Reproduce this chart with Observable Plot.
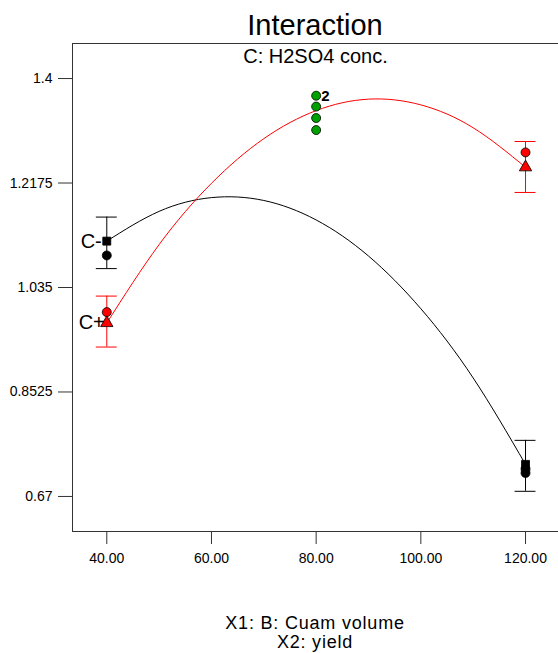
<!DOCTYPE html>
<html>
<head>
<meta charset="utf-8">
<script src="https://cdn.jsdelivr.net/npm/d3@7"></script>
<script src="https://cdn.jsdelivr.net/npm/@observablehq/plot@0.6"></script>
<style>
  html, body { margin: 0; padding: 0; background: #fff; overflow: hidden; }
  #wrap { position: relative; width: 558px; height: 653px; font-family: "Liberation Sans", Arial, sans-serif; color: #000; }
  #chart { position: absolute; left: 0; top: 0; }
  .title { position: absolute; left: 72px; width: 486px; text-align: center; white-space: nowrap; }
  #title { top: 11px; font-size: 29px; line-height: 29px; }
  #xlabel { top: 614px; font-size: 18px; line-height: 19px; letter-spacing: 0.8px; }
</style>
</head>
<body>
<div id="wrap">
  <div id="chart"></div>
  <div id="title" class="title">Interaction</div>
  <div id="xlabel" class="title">X1: B: Cuam volume<br>X2: yield</div>
</div>
<script>
// ---- data ----
const xTicks = [40, 60, 80, 100, 120];
const yTicks = [0.67, 0.8525, 1.035, 1.2175, 1.4];

const levelsX = [40, 120];
// C- (black): predicted, error bar, observed
const cMinusPred = [1.116, 0.726];
const cMinusErrLow = [1.068, 0.679];
const cMinusErrHigh = [1.158, 0.768];
const cMinusObsX = [40, 120, 120];
const cMinusObsY = [1.091, 0.718, 0.711];
// C+ (red)
const cPlusPred = [0.973, 1.245];
const cPlusErrLow = [0.931, 1.201];
const cPlusErrHigh = [1.020, 1.290];
const cPlusObsX = [40, 120];
const cPlusObsY = [0.992, 1.271];
// centre points (green)
const centerX = 80;
const centerObsY = [1.370, 1.351, 1.331, 1.310];
const centerLabel = "2";
// fitted curves
const curveX = [40, 50, 60, 70, 80, 90, 100, 110, 120];
const cMinusCurve = [1.116, 1.168, 1.192, 1.187, 1.153, 1.090, 0.998, 0.877, 0.726];
const cPlusCurve = [0.973, 1.110, 1.217, 1.295, 1.344, 1.364, 1.354, 1.314, 1.245];
const seriesLabels = ["C-", "C+"];

// ---- tables ----
const xDomain = [33.45, 126.3];
const yDomain = [0.6088, 1.4612];
const curveMinus = curveX.map((x, i) => ({x, y: cMinusCurve[i]}));
const curvePlus = curveX.map((x, i) => ({x, y: cPlusCurve[i]}));
const errMinus = levelsX.map((x, i) => ({x, lo: cMinusErrLow[i], hi: cMinusErrHigh[i], y: cMinusPred[i]}));
const errPlus = levelsX.map((x, i) => ({x, lo: cPlusErrLow[i], hi: cPlusErrHigh[i], y: cPlusPred[i]}));
const obsMinus = cMinusObsX.map((x, i) => ({x, y: cMinusObsY[i]}));
const obsPlus = cPlusObsX.map((x, i) => ({x, y: cPlusObsY[i]}));
const centers = centerObsY.map(y => ({x: centerX, y}));
const capHalf = 2; // half width of error-bar caps, in x units

const font = "Liberation Sans, Arial, sans-serif";

const chart = Plot.plot({
  width: 558,
  height: 653,
  marginTop: 43,
  marginBottom: 122,
  marginLeft: 72,
  marginRight: 0,
  style: {fontFamily: font, background: "transparent", color: "#000"},
  x: {domain: xDomain},
  y: {domain: yDomain},
  marks: [
    // frame (left, top, bottom)
    Plot.ruleX([xDomain[0]], {stroke: "#333"}),
    Plot.ruleY(yDomain, {stroke: "#333"}),
    Plot.axisY({ticks: yTicks, tickFormat: d => String(d), tickSize: 14, tickPadding: 6, fontSize: 14, label: null, stroke: "#333"}),
    Plot.axisX({ticks: xTicks, tickFormat: d => d.toFixed(2), tickSize: 13, tickPadding: 9, fontSize: 14, label: null, stroke: "#333"}),
    Plot.text(["C: H2SO4 conc."], {frameAnchor: "top", lineAnchor: "middle", dy: 13, fontSize: 20, fill: "#000"}),
    // curves
    Plot.line(curveMinus, {x: "x", y: "y", curve: "natural", stroke: "#000", strokeWidth: 1}),
    Plot.line(curvePlus, {x: "x", y: "y", curve: "natural", stroke: "#ff0000", strokeWidth: 1}),
    // error bars
    Plot.ruleX(errMinus, {x: "x", y1: "lo", y2: "hi", stroke: "#000"}),
    Plot.ruleY(errMinus, {y: "lo", x1: d => d.x - capHalf, x2: d => d.x + capHalf, stroke: "#000"}),
    Plot.ruleY(errMinus, {y: "hi", x1: d => d.x - capHalf, x2: d => d.x + capHalf, stroke: "#000"}),
    Plot.ruleX(errPlus, {x: "x", y1: "lo", y2: "hi", stroke: "#ff0000"}),
    Plot.ruleY(errPlus, {y: "lo", x1: d => d.x - capHalf, x2: d => d.x + capHalf, stroke: "#ff0000"}),
    Plot.ruleY(errPlus, {y: "hi", x1: d => d.x - capHalf, x2: d => d.x + capHalf, stroke: "#ff0000"}),
    // observed points
    Plot.dot(obsMinus, {x: "x", y: "y", r: 4.5, fill: "#000", stroke: "#000", strokeWidth: 0.8}),
    Plot.dot(obsPlus, {x: "x", y: "y", r: 4.5, fill: "#ff0000", stroke: "#000", strokeWidth: 0.8}),
    Plot.dot(centers, {x: "x", y: "y", r: 4.5, fill: "#00a000", stroke: "#000", strokeWidth: 0.8}),
    // predicted points
    Plot.dot(errMinus, {x: "x", y: "y", r: 4.5, symbol: "square", fill: "#000", stroke: "#000", strokeWidth: 0.8}),
    Plot.dot(errPlus, {x: "x", y: "y", r: 4.6, symbol: "triangle", fill: "#ff0000", stroke: "#000", strokeWidth: 0.8}),
    // labels
    Plot.text([centers[0]], {x: "x", y: "y", text: () => centerLabel, dx: 5, textAnchor: "start", fontSize: 15, fontWeight: "bold", fill: "#000"}),
    Plot.text([errMinus[0]], {x: "x", y: "y", text: () => seriesLabels[0], dx: -5, textAnchor: "end", fontSize: 20, fill: "#000"}),
    Plot.text([errPlus[0]], {x: "x", y: "y", text: () => seriesLabels[1], dx: -2, textAnchor: "end", fontSize: 20, fill: "#000"})
  ]
});
document.getElementById("chart").appendChild(chart);
</script>
</body>
</html>
